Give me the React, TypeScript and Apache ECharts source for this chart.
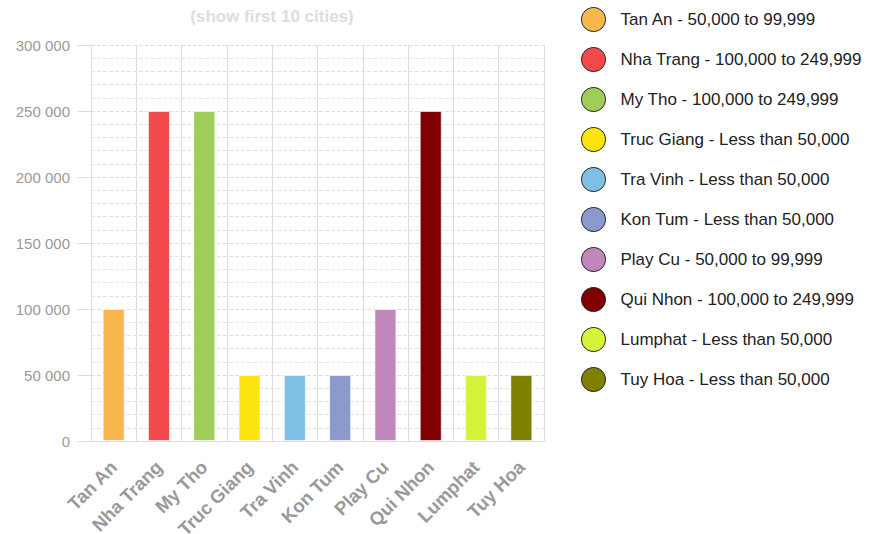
import React, { useEffect, useRef } from "react";
import * as echarts from "echarts";

const cities = ["Tan An", "Nha Trang", "My Tho", "Truc Giang", "Tra Vinh", "Kon Tum", "Play Cu", "Qui Nhon", "Lumphat", "Tuy Hoa"];
const populations = [99999, 249999, 249999, 49999, 49999, 49999, 99999, 249999, 49999, 49999];
const ranges = [
  "50,000 to 99,999",
  "100,000 to 249,999",
  "100,000 to 249,999",
  "Less than 50,000",
  "Less than 50,000",
  "Less than 50,000",
  "50,000 to 99,999",
  "100,000 to 249,999",
  "Less than 50,000",
  "Less than 50,000",
];
const colors = ["#f8b74d", "#f2494c", "#a0cd5a", "#fde40e", "#7fbfe3", "#8b9acb", "#bf87bb", "#7f0000", "#d4f43a", "#7f7f00"];
const yTicks = [0, 50000, 100000, 150000, 200000, 250000, 300000];

const FONT = "Liberation Sans, Arial, Helvetica, sans-serif";

export default function App() {
  const ref = useRef<HTMLDivElement>(null);
  useEffect(() => {
    if (!ref.current) return;
    const chart = echarts.init(ref.current, undefined, { renderer: "svg" });
    const names = cities.map((c, i) => `${c} - ${ranges[i]}`);
    const series = cities.map((c, i) => ({
      name: names[i],
      type: "bar" as const,
      barWidth: 22,
      barGap: "-100%",
      data: cities.map((_, j) => (j === i ? populations[i] : null)),
      itemStyle: { color: colors[i], borderColor: "rgba(255,255,255,0.6)", borderWidth: 1 },
    }));
    chart.setOption({
      animation: false,
      title: {
        text: "(show first 10 cities)",
        left: 272,
        top: 8,
        padding: 0,
        textAlign: "center",
        textStyle: { color: "#dddddd", fontSize: 17, fontWeight: "bold", fontFamily: FONT },
      },
      legend: {
        orient: "vertical",
        left: 581,
        top: 7,
        padding: 0,
        itemWidth: 24,
        itemHeight: 24,
        itemGap: 15,
        icon: "circle",
        itemStyle: { borderColor: "#222", borderWidth: 1 },
        textStyle: { fontSize: 17, color: "#222", fontFamily: FONT, lineHeight: 24, padding: [0, 0, 0, 10] },
        data: names,
        selectedMode: false,
      },
      grid: { left: 91, right: 338, top: 45, bottom: 93, outerBoundsMode: "none", containLabel: false },
      xAxis: {
        type: "category",
        data: cities,
        axisLine: { lineStyle: { color: "#dddddd" } },
        axisTick: { length: 13, lineStyle: { color: "#dddddd" } },
        splitLine: { show: true, lineStyle: { color: "#dddddd", type: "solid" } },
        axisLabel: {
          rotate: 45,
          interval: 0,
          margin: 23,
          color: "#999999",
          fontSize: 18.5,
          fontWeight: "bold",
          fontFamily: FONT,
        },
      },
      yAxis: {
        type: "value",
        min: yTicks[0],
        max: yTicks[yTicks.length - 1],
        interval: 50000,
        axisLine: { show: true, lineStyle: { color: "#dddddd" } },
        axisTick: { show: true, length: 14, lineStyle: { color: "#dddddd" } },
        splitLine: { show: true, lineStyle: { color: "#dddddd", type: "dashed" } },
        minorTick: { show: false, splitNumber: 5 },
        minorSplitLine: { show: true, lineStyle: { color: "#e2e2e2", type: "dashed" } },
        axisLabel: {
          margin: 21,
          color: "#999999",
          fontSize: 15,
          fontFamily: FONT,
          formatter: (v: number) => String(v).replace(/\B(?=(\d{3})+(?!\d))/g, " "),
        },
      },
      series,
    });
    return () => chart.dispose();
  }, []);
  return <div ref={ref} style={{ width: 882, height: 534, position: "absolute", left: 0, top: 0 }} />;
}
